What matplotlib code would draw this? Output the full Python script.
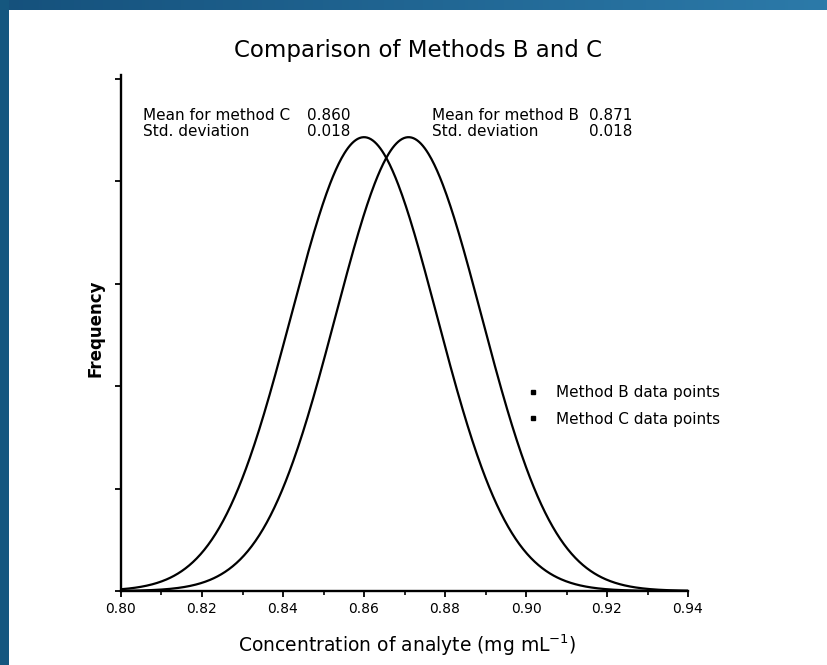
import numpy as np
import matplotlib
matplotlib.use("Agg")
import matplotlib.pyplot as plt
from matplotlib.lines import Line2D

# data
methods = ['Method B', 'Method C']
means = [0.871, 0.860]
std_devs = [0.018, 0.018]
x_ticks = [0.80, 0.82, 0.84, 0.86, 0.88, 0.90, 0.92, 0.94]
y_ticks = [0, 5, 10, 15, 20, 25]

W, H = 827, 665
fig = plt.figure(figsize=(W / 100, H / 100), dpi=100, facecolor='white')
plt.rcParams['font.family'] = ['DejaVu Sans']

# blue frame of the slide (top gradient bar + left strip)
top_bar = fig.add_axes([0, 1 - 10 / H, 1, 10 / H])
grad = np.linspace(0, 1, 256).reshape(1, -1)
cmap = matplotlib.colors.LinearSegmentedColormap.from_list('slide', ['#15517c', '#2c7aa9'])
top_bar.imshow(grad, aspect='auto', cmap=cmap, extent=[0, 1, 0, 1])
top_bar.axis('off')
left_bar = fig.add_axes([0, 0, 9 / W, 1])
left_bar.set_facecolor('#15577f')
left_bar.set_xticks([])
left_bar.set_yticks([])
for s in left_bar.spines.values():
    s.set_visible(False)

ax = fig.add_axes([121 / W, 1 - 591 / H, (688 - 121) / W, (591 - 75) / H])

x = np.linspace(0.80, 0.94, 600)
for m, s in zip(means, std_devs):
    y = np.exp(-0.5 * ((x - m) / s) ** 2) / (s * np.sqrt(2 * np.pi))
    ax.plot(x, y, color='black', lw=1.6)

ax.set_xlim(0.80, 0.94)
ax.set_ylim(0, 25.2)
ax.set_xticks(x_ticks)
ax.set_xticklabels([f'{t:.2f}' for t in x_ticks], fontsize=10)
ax.set_xticks(np.arange(0.81, 0.94, 0.02), minor=True)
ax.set_yticks(y_ticks)
ax.set_yticklabels([])
ax.tick_params(axis='both', which='major', direction='out', length=4, width=1.3, pad=4)
ax.tick_params(axis='x', which='minor', direction='out', length=3, width=1.2)
ax.spines['top'].set_visible(False)
ax.spines['right'].set_visible(False)
ax.spines['left'].set_linewidth(1.7)
ax.spines['bottom'].set_linewidth(1.7)

# titles
fig.text(418 / W, 1 - 50 / H, 'Comparison of Methods B and C', fontsize=16.5,
         ha='center', va='center')
fig.text(407 / W, 1 - 645 / H, 'Concentration of analyte (mg mL$^{-1}$)', fontsize=13.5,
         ha='center', va='center')
fig.text(95 / W, 1 - 328 / H, 'Frequency', fontsize=12, fontweight='bold',
         rotation=90, ha='center', va='center')

# stats boxes
fs = 11
fig.text(143 / W, 1 - 115 / H, 'Mean for method C', fontsize=fs, va='center')
fig.text(350 / W, 1 - 115 / H, f'{means[1]:.3f}', fontsize=fs, va='center', ha='right')
fig.text(143 / W, 1 - 132 / H, 'Std. deviation', fontsize=fs, va='center')
fig.text(350 / W, 1 - 132 / H, f'{std_devs[1]:.3f}', fontsize=fs, va='center', ha='right')
fig.text(432 / W, 1 - 115 / H, 'Mean for method B', fontsize=fs, va='center')
fig.text(632 / W, 1 - 115 / H, f'{means[0]:.3f}', fontsize=fs, va='center', ha='right')
fig.text(432 / W, 1 - 132 / H, 'Std. deviation', fontsize=fs, va='center')
fig.text(632 / W, 1 - 132 / H, f'{std_devs[0]:.3f}', fontsize=fs, va='center', ha='right')

# legend
handles = [Line2D([], [], ls='', marker='s', ms=2.5, color='black') for _ in methods]
ax.legend(handles, [f'{m} data points' for m in methods], loc='center left',
          bbox_to_anchor=(525 / W, 1 - 406 / H), bbox_transform=fig.transFigure,
          frameon=False, fontsize=11, handlelength=1.0, handletextpad=1.0,
          borderpad=0, borderaxespad=0, labelspacing=0.75)

fig.savefig('out.png', dpi=100, facecolor='white')
